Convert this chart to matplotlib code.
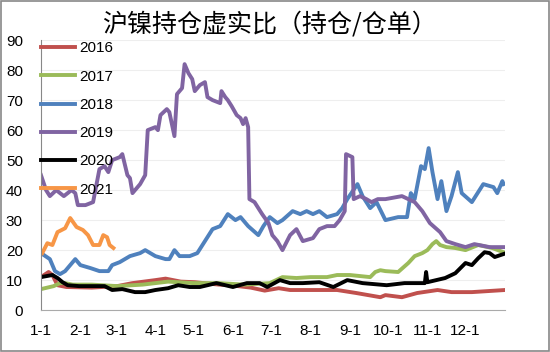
import matplotlib
matplotlib.use("Agg")
import matplotlib.pyplot as plt
from matplotlib.patches import Rectangle

# day of year -> ratio
d2016 = [0, 6, 9, 13, 20, 40, 60, 72, 90, 98, 110, 121, 140, 149, 165, 176, 187, 196, 219, 233, 248, 267, 271, 284, 296, 312, 323, 339, 365]
v2016 = [11, 12.7, 11.7, 8.3, 7.7, 7.5, 8, 9, 10, 10.5, 9.5, 9.3, 8.5, 8.3, 7.5, 6.5, 7.3, 6.7, 6.7, 6.7, 5.7, 4.3, 5, 4.3, 5.7, 6.7, 6, 6, 6.7]

d2017 = [0, 10, 15, 19, 25, 40, 60, 80, 100, 120, 140, 160, 180, 190, 201, 212, 225, 233, 243, 259, 263, 267, 271, 281, 289, 294, 300, 304, 308, 311, 314, 319, 326, 334, 344, 355, 364]
v2017 = [7, 8, 9, 9, 8.5, 8.5, 8, 8.5, 9.5, 9, 9, 8.5, 9, 11, 10.7, 11, 11, 11.7, 11.7, 11, 12.7, 13.3, 13, 12.7, 15.7, 18, 19, 20, 22, 23, 21.7, 21, 20.7, 20, 21.7, 20.7, 19.3]

d2018 = [0, 7, 11, 15, 19, 23, 27, 31, 39, 46, 53, 56, 62, 70, 78, 82, 90, 98, 101, 105, 109, 117, 123, 129, 135, 141, 147, 153, 157, 163, 171, 175, 180, 186, 190, 198, 204, 209, 214, 219, 225, 233, 237, 241, 249, 253, 259, 264, 271, 281, 288, 291, 294, 299, 302, 305, 308, 312, 315, 319, 323, 328, 331, 339, 348, 356, 359, 363, 364]
v2018 = [19, 17, 13, 12, 13, 15, 17, 15, 14, 13, 13, 15, 16, 18, 19, 20, 18, 17, 17, 20, 18, 18, 19, 23, 27, 28, 32, 30, 31, 28, 25, 28, 31, 29, 30, 33, 32, 33, 32, 33, 31, 32, 34, 37, 42, 38, 34, 36, 30, 31, 31, 39, 37, 48, 47, 54, 46, 37, 43, 33, 38, 46, 39, 36, 42, 41, 39, 43, 42]

d2019 = [0, 4, 7, 12, 18, 24, 27, 29, 35, 41, 46, 50, 53, 56, 62, 64, 68, 70, 72, 78, 82, 84, 90, 92, 94, 99, 101, 105, 107, 111, 113, 116, 119, 121, 125, 129, 131, 135, 141, 142, 145, 147, 150, 154, 157, 159, 161, 163, 164, 168, 174, 179, 182, 186, 190, 196, 201, 206, 214, 219, 225, 231, 235, 239, 240, 245, 246, 251, 256, 260, 265, 271, 284, 294, 300, 306, 314, 319, 326, 334, 341, 353, 365]
v2019 = [45, 40, 38, 40, 38, 40, 39, 35, 35, 36, 47, 48, 46, 50, 51, 52, 45, 44, 39, 42, 45, 60, 61, 60, 65, 67, 66, 58, 72, 74, 82, 79, 77, 73, 75, 76, 71, 70, 69, 73, 71, 70, 68, 65, 64, 62, 64, 61, 37, 36, 32, 29, 25, 23, 20, 25, 27, 23, 24, 27, 28, 28, 30, 33, 52, 51, 37, 38, 37, 36, 37, 37, 38, 36, 33, 29, 26, 23, 22, 21, 22, 21, 21]

d2020 = [0, 9, 13, 17, 21, 30, 50, 56, 64, 74, 82, 90, 100, 108, 117, 125, 138, 151, 162, 172, 178, 188, 196, 206, 219, 230, 241, 253, 272, 286, 297, 302, 303, 304, 318, 326, 334, 339, 344, 349, 353, 357, 364]
v2020 = [11, 11.7, 10.7, 9.3, 8.3, 8, 8, 6.7, 7, 6, 6, 6.7, 7.3, 8.3, 7.7, 7.7, 9, 7.7, 9, 9, 7.7, 10, 9, 9, 9.3, 7.7, 10, 9, 8.3, 9, 9, 9, 12.7, 9.3, 10.7, 12.3, 15.7, 15, 17.3, 19.3, 19, 17.7, 18.7]

d2021 = [1, 5, 9, 13, 19, 23, 28, 33, 37, 41, 46, 49, 52, 54, 57]
v2021 = [19, 22.3, 21.7, 26, 27.3, 30.7, 27.7, 26.7, 25, 21.7, 21.7, 25, 24.3, 21.7, 20.7]

month_days = [0, 31, 59, 90, 120, 151, 181, 212, 243, 273, 304, 334]
month_labels = ['1-1', '2-1', '3-1', '4-1', '5-1', '6-1', '7-1', '8-1', '9-1', '10-1', '11-1', '12-1']

series = [
    ('2016', d2016, v2016, '#C0504D'),
    ('2017', d2017, v2017, '#9BBB59'),
    ('2018', d2018, v2018, '#4F81BD'),
    ('2019', d2019, v2019, '#8064A2'),
    ('2020', d2020, v2020, '#000000'),
    ('2021', d2021, v2021, '#F79646'),
]

plt.rcParams['font.family'] = ['Liberation Sans', 'DejaVu Sans']

fig = plt.figure(figsize=(5.5, 3.52), dpi=100)
ax = fig.add_axes([0.0745, 0.119, 0.8435, 0.767])

for name, d, v, c in series:
    ax.plot(d, v, color=c, lw=2.8, label=name, solid_joinstyle='round')

ax.set_xlim(0, 365)
ax.set_ylim(0, 90)
ax.set_yticks(range(0, 91, 10))
ax.set_xticks(month_days)
ax.set_xticklabels(month_labels)
ax.tick_params(length=0, labelsize=11, pad=10)
ax.tick_params(axis='y', pad=13)
ax.grid(axis='y', color='#EEEEEE', lw=0.8)
ax.set_axisbelow(True)
for s in ['top', 'right']:
    ax.spines[s].set_visible(False)
ax.spines['left'].set_color('#888888')
ax.spines['bottom'].set_color('#AAAAAA')

ax.legend(loc='upper left', bbox_to_anchor=(0.0, 0.995), frameon=False, fontsize=11,
          handlelength=2.2, handletextpad=0.3, labelspacing=0.93, borderpad=0, borderaxespad=0)

fig.text(0.49, 0.93, '沪镍持仓虚实比（持仓/仓单）', ha='center', va='center', fontsize=18,
         family=['Noto Sans CJK SC', 'DejaVu Sans'])

fig.patches.append(Rectangle((0.001, 0.002), 0.997, 0.995, transform=fig.transFigure,
                             fill=False, ec='#888888', lw=1.2))

fig.savefig('out.png', dpi=100)
